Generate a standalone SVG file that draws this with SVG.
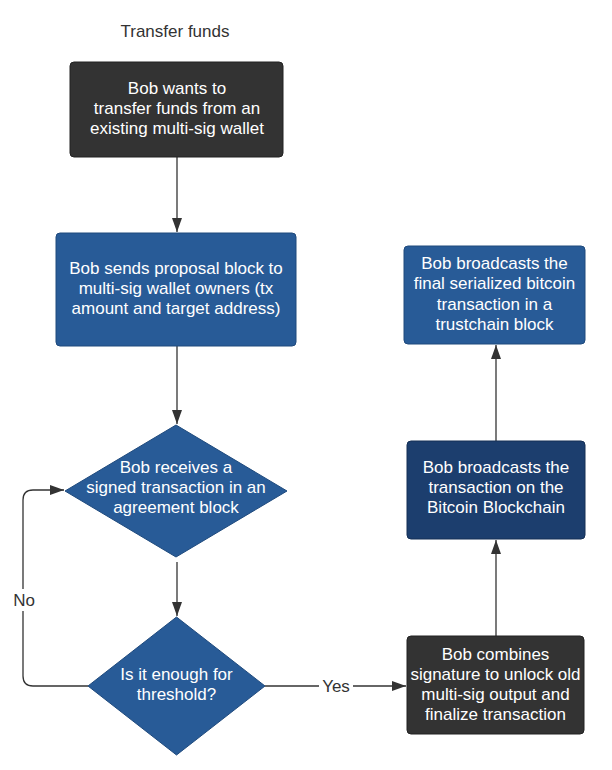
<svg xmlns="http://www.w3.org/2000/svg" width="612" height="770" viewBox="0 0 612 770">
<defs>
<style>
.t{font-family:"Liberation Sans",Arial,sans-serif;font-size:17px;fill:#ffffff;text-anchor:middle}
.lbl{font-family:"Liberation Sans",Arial,sans-serif;font-size:17px;fill:#333333;text-anchor:middle}
.c{fill:none;stroke:#333333;stroke-width:1.3}
.dark{fill:#333333;stroke:#222222;stroke-width:1}
.blue{fill:#285b97;stroke:#1f4a7d;stroke-width:1}
.navy{fill:#1c3e6e;stroke:#142f55;stroke-width:1}
</style>
<marker id="ah" viewBox="0 0 14 10" refX="14" refY="5" markerWidth="14" markerHeight="10" markerUnits="userSpaceOnUse" orient="auto">
<path d="M0,0 L14,5 L0,10 Z" fill="#333333"/>
</marker>
</defs>
<rect width="612" height="770" fill="#ffffff"/>
<text class="lbl" x="175" y="37">Transfer funds</text>
<g id="connectors">
<path class="c" d="M177,157 V232" marker-end="url(#ah)"/>
<path class="c" d="M177,346 V424" marker-end="url(#ah)"/>
<path class="c" d="M177,562 V616" marker-end="url(#ah)"/>
<path class="c" d="M88,686 H33 Q23,686 23,676 V500 Q23,490 33,490 H64" marker-end="url(#ah)"/>
<path class="c" d="M265,686 H406" marker-end="url(#ah)"/>
<path class="c" d="M496,636 V540" marker-end="url(#ah)"/>
<path class="c" d="M496,441 V345" marker-end="url(#ah)"/>
<rect x="12" y="589" width="24" height="22" fill="#ffffff"/>
<text class="lbl" x="24" y="606">No</text>
<rect x="319" y="675" width="34" height="20" fill="#ffffff"/>
<text class="lbl" x="336" y="692">Yes</text>
</g>
<g id="n1">
<rect class="dark" x="70" y="62" width="213" height="95" rx="4"/>
<text class="t" x="177" y="94">Bob wants to</text>
<text class="t" x="177" y="114">transfer funds from an</text>
<text class="t" x="177" y="134">existing multi-sig wallet</text>
</g>
<g id="n2">
<rect class="blue" x="56" y="233" width="240" height="113" rx="4"/>
<text class="t" x="176" y="274">Bob sends proposal block to</text>
<text class="t" x="176" y="294">multi-sig wallet owners (tx</text>
<text class="t" x="176" y="314">amount and target address)</text>
</g>
<g id="n3">
<path class="blue" d="M176,425 L287,491 L176,557 L65,491 Z" stroke-linejoin="round"/>
<text class="t" x="176" y="473">Bob receives a</text>
<text class="t" x="176" y="493">signed transaction in an</text>
<text class="t" x="176" y="513">agreement block</text>
</g>
<g id="n4">
<path class="blue" d="M176.5,617 L265,686 L176.5,755 L88,686 Z" stroke-linejoin="round"/>
<text class="t" x="176.5" y="680">Is it enough for</text>
<text class="t" x="176.5" y="700">threshold?</text>
</g>
<g id="n5">
<rect class="dark" x="407" y="636" width="177" height="98" rx="4"/>
<text class="t" x="495.5" y="660">Bob combines</text>
<text class="t" x="495.5" y="680">signature to unlock old</text>
<text class="t" x="495.5" y="700">multi-sig output and</text>
<text class="t" x="495.5" y="720">finalize transaction</text>
</g>
<g id="n6">
<rect class="navy" x="407" y="441" width="178" height="98" rx="4"/>
<text class="t" x="496" y="473">Bob broadcasts the</text>
<text class="t" x="496" y="493">transaction on the</text>
<text class="t" x="496" y="513">Bitcoin Blockchain</text>
</g>
<g id="n7">
<rect class="blue" x="404" y="246" width="181" height="98" rx="4"/>
<text class="t" x="494.5" y="269">Bob broadcasts the</text>
<text class="t" x="494.5" y="289">final serialized bitcoin</text>
<text class="t" x="494.5" y="310">transaction in a</text>
<text class="t" x="494.5" y="330">trustchain block</text>
</g>
</svg>
